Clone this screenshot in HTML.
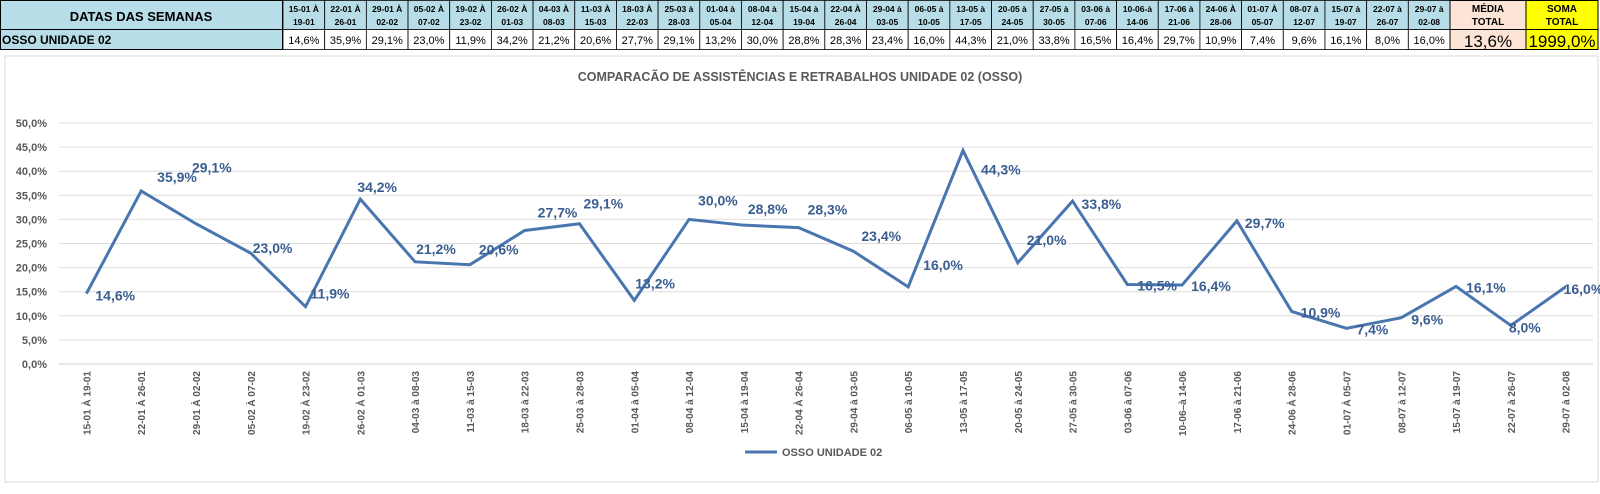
<!DOCTYPE html>
<html><head><meta charset="utf-8"><style>
html,body{margin:0;padding:0;background:#fff;}
svg{display:block;font-family:"Liberation Sans",sans-serif;}
</style></head><body>
<svg id="s" width="1600" height="494" viewBox="0 0 1600 494">
<g id="table"></g>
<rect x="5" y="56" width="1593" height="426" fill="#fff" stroke="#d9d9d9"/>
<text x="800" y="81" text-anchor="middle" font-size="12.5" font-weight="bold" fill="#595959">COMPARACÃO DE ASSISTÊNCIAS E RETRABALHOS UNIDADE 02  (OSSO)</text>
<g id="grid"></g>
<g id="yax"></g>
<g id="xax"></g>
<g id="series"></g>
<g>
<line x1="745" y1="452" x2="777" y2="452" stroke="#4a76b0" stroke-width="3"/>
<text x="782" y="456" font-size="11" font-weight="bold" fill="#595959">OSSO UNIDADE 02</text>
</g>
</svg>
<script>
const headTop = ["15-01 À","22-01 À","29-01 À","05-02 À","19-02 À","26-02 À","04-03 À","11-03 À","18-03 À","25-03 à","01-04 à","08-04 à","15-04 à","22-04 À","29-04 à","06-05 à","13-05 à","20-05 à","27-05 à","03-06 à","10-06-à","17-06 à","24-06 À","01-07 À","08-07 à","15-07 à","22-07 à","29-07 à"];
const headBot = ["19-01","26-01","02-02","07-02","23-02","01-03","08-03","15-03","22-03","28-03","05-04","12-04","19-04","26-04","03-05","10-05","17-05","24-05","30-05","07-06","14-06","21-06","28-06","05-07","12-07","19-07","26-07","02-08"];
const categories = ["15-01 À 19-01","22-01 À 26-01","29-01 À 02-02","05-02 À 07-02","19-02 À 23-02","26-02 À 01-03","04-03 à 08-03","11-03 à 15-03","18-03 à 22-03","25-03 à 28-03","01-04 à 05-04","08-04 à 12-04","15-04 à 19-04","22-04 À 26-04","29-04 à 03-05","06-05 à 10-05","13-05 à 17-05","20-05 à 24-05","27-05 à 30-05","03-06 à 07-06","10-06–à 14-06","17-06 à 21-06","24-06  À 28-06","01-07  À 05-07","08-07 à 12-07","15-07 à 19-07","22-07 à 26-07","29-07 à 02-08"];
const values = [14.6,35.9,29.1,23.0,11.9,34.2,21.2,20.6,27.7,29.1,13.2,30.0,28.8,28.3,23.4,16.0,44.3,21.0,33.8,16.5,16.4,29.7,10.9,7.4,9.6,16.1,8.0,16.0];
const yTicks = [0,5,10,15,20,25,30,35,40,45,50];
const mediaTotal = "13,6%";
const somaTotal = "1999,0%";
// label offsets (layout only)
const ldx=[9,16,-4,2,5,-3,1,9,13,4,1,9,4,9,8,15,18,9,9,10,9,8,9,10,10,10,-2,-2];
const ldy=[2,-14,-56,-5,-13,-12,-13,-15,-18,-20,-17,-19,-16,-18,-15,-22,19,-23,3,1,1,2,1,1,2,1,2,2];
</script>
<script>
const NS="http://www.w3.org/2000/svg";
function mk(tag,attrs,parent,txt){const e=document.createElementNS(NS,tag);for(const k in attrs)e.setAttribute(k,attrs[k]);if(txt!==undefined)e.textContent=txt;parent.appendChild(e);return e;}
const fmt=v=>v.toFixed(1).replace('.',',')+'%';
const n=values.length;
// Table
const T=document.getElementById('table');
let r=mk('rect',{x:0.5,y:0.5,width:282,height:29,fill:'#b7dee8',stroke:'#000'},T);

let t=mk('text',{x:141,y:21,'text-anchor':'middle','font-size':13,'font-weight':'bold'},T,'DATAS DAS SEMANAS');

r=mk('rect',{x:0.5,y:29.5,width:282,height:20,fill:'#b7dee8',stroke:'#000'},T);

t=mk('text',{x:2,y:44,'font-size':12,'font-weight':'bold'},T,'OSSO UNIDADE 02');

const c0=283,cw=(1450-283)/n;
for(let i=0;i<n;i++){
  const x=c0+i*cw;
  r=mk('rect',{x:x,y:0.5,width:cw,height:29,fill:'#b7dee8',stroke:'#000','stroke-width':0.8},T);
  
  t=mk('text',{x:x+cw/2,y:12,'text-anchor':'middle','font-size':8.5,'font-weight':'bold'},T,headTop[i]);
  
  t=mk('text',{x:x+cw/2,y:25,'text-anchor':'middle','font-size':8.5,'font-weight':'bold'},T,headBot[i]);
  
  r=mk('rect',{x:x,y:29.5,width:cw,height:20,fill:'#fff',stroke:'#000','stroke-width':0.8},T);
  
  t=mk('text',{x:x+cw/2,y:44,'text-anchor':'middle','font-size':11},T,fmt(values[i]));
  
}
r=mk('rect',{x:1450,y:0.5,width:76,height:49,fill:'#fce4d6',stroke:'#000'},T);

t=mk('text',{x:1488,y:12,'text-anchor':'middle','font-size':10,'font-weight':'bold'},T,'MÉDIA');
t=mk('text',{x:1488,y:25,'text-anchor':'middle','font-size':10,'font-weight':'bold'},T,'TOTAL');
mk('line',{x1:1450,y1:29.5,x2:1526,y2:29.5,stroke:'#000'},T);
t=mk('text',{x:1488,y:47,'text-anchor':'middle','font-size':17},T,mediaTotal);
r=mk('rect',{x:1526,y:0.5,width:72,height:49,fill:'#ffff00',stroke:'#000'},T);

t=mk('text',{x:1562,y:12,'text-anchor':'middle','font-size':10,'font-weight':'bold'},T,'SOMA');
t=mk('text',{x:1562,y:25,'text-anchor':'middle','font-size':10,'font-weight':'bold'},T,'TOTAL');
mk('line',{x1:1526,y1:29.5,x2:1598,y2:29.5,stroke:'#000'},T);
t=mk('text',{x:1562,y:47,'text-anchor':'middle','font-size':17},T,somaTotal);

// Chart axes
const px0=59,px1=1593,py0=364,py1=123;
const band=(px1-px0)/n;
const X=i=>px0+band*(i+0.5);
const Y=v=>py0-(v/50)*(py0-py1);
const G=document.getElementById('grid'),YA=document.getElementById('yax'),XA=document.getElementById('xax'),S=document.getElementById('series');
yTicks.forEach(v=>{
  const l=mk('line',{x1:px0,x2:px1,y1:Y(v),y2:Y(v),stroke:v===0?'#d0d0d0':'#dedede','stroke-width':1},G);
  
  const tt=mk('text',{x:47,y:Y(v)+4,'text-anchor':'end','font-size':11,'font-weight':'bold',fill:'#595959'},YA,fmt(v));
  
});
categories.forEach((c,i)=>{
  const tt=mk('text',{x:0,y:0,'text-anchor':'end','font-size':10,'font-weight':'bold',fill:'#595959',transform:`translate(${X(i)+4},${371}) rotate(-90)`},XA,c);
  
});
const pts=values.map((v,i)=>X(i)+','+Y(v)).join(' ');
const pl=mk('polyline',{points:pts,fill:'none',stroke:'#4a76b0','stroke-width':3,'stroke-linejoin':'miter'},S);

values.forEach((v,i)=>{
  const tt=mk('text',{x:X(i)+ldx[i],y:Y(v)+ldy[i]+5,'font-size':14,'font-weight':'bold',fill:'#3b5e91'},S,fmt(v));
  
});
</script>
</body></html>
